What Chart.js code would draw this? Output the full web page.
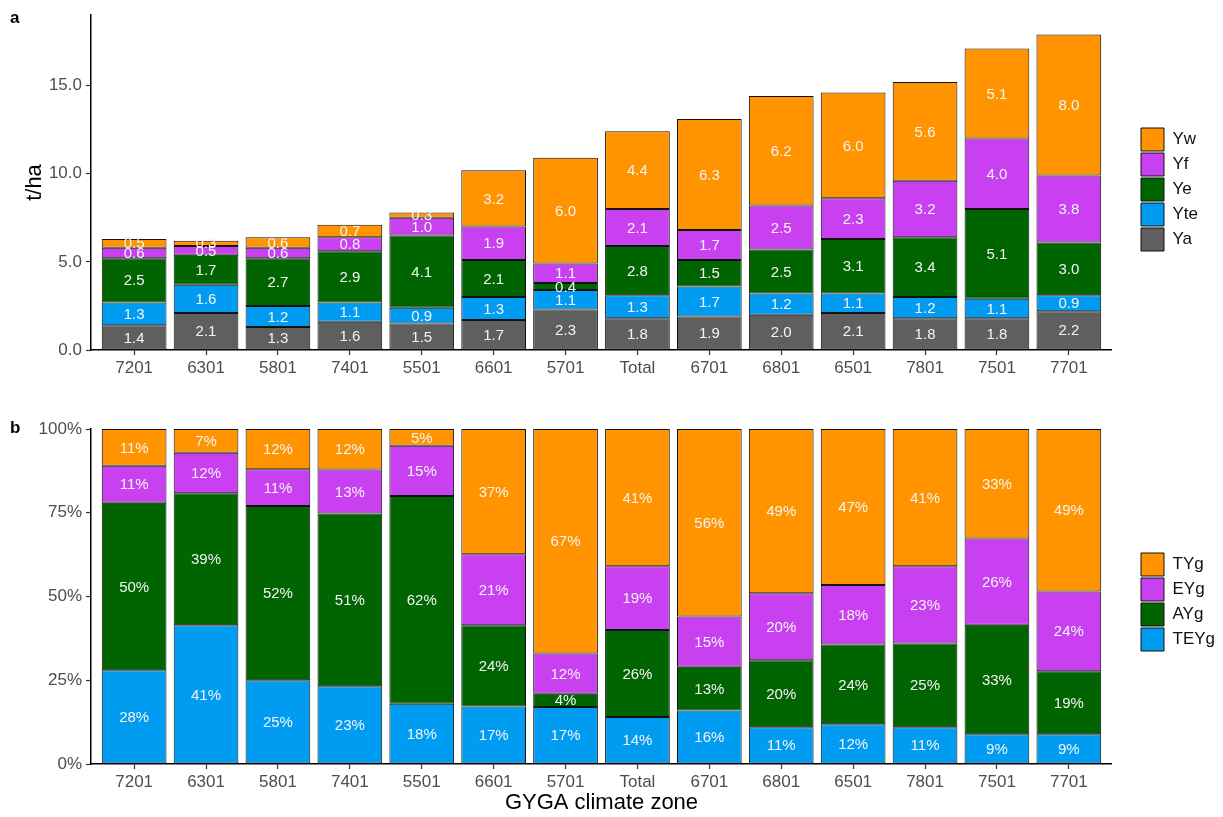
<!DOCTYPE html>
<html lang="en">
<head>
<meta charset="UTF-8">
<title>Yield gaps by GYGA climate zone</title>
<script src="https://cdn.jsdelivr.net/npm/chart.js"></script>
<style>
  body { margin: 0; background: #fff; }
  .panel { position: absolute; left: 0; width: 1223px; }
  #panelA { top: 0; height: 395px; }
  #panelB { top: 395px; height: 422px; }
</style>
</head>
<body>
<div class="panel" id="panelA"><canvas id="chartA" width="1223" height="395"></canvas></div>
<div class="panel" id="panelB"><canvas id="chartB" width="1223" height="422"></canvas></div>

<script>
// climate zones, same order in both panels
const zones = ['7201', '6301', '5801', '7401', '5501', '6601', '5701', 'Total', '6701', '6801', '6501', '7801', '7501', '7701'];

// panel a, t/ha (bottom to top)
const ya  = [1.4, 2.1, 1.3, 1.6, 1.5, 1.7, 2.3, 1.8, 1.9, 2.0, 2.1, 1.8, 1.8, 2.2];
const yte = [1.3, 1.6, 1.2, 1.1, 0.9, 1.3, 1.1, 1.3, 1.7, 1.2, 1.1, 1.2, 1.1, 0.9];
const ye  = [2.5, 1.7, 2.7, 2.9, 4.1, 2.1, 0.4, 2.8, 1.5, 2.5, 3.1, 3.4, 5.1, 3.0];
const yf  = [0.6, 0.5, 0.6, 0.8, 1.0, 1.9, 1.1, 2.1, 1.7, 2.5, 2.3, 3.2, 4.0, 3.8];
const yw  = [0.5, 0.3, 0.6, 0.7, 0.3, 3.2, 6.0, 4.4, 6.3, 6.2, 6.0, 5.6, 5.1, 8.0];

// panel b, % of the total gap (bottom to top)
const teyg = [28, 41, 25, 23, 18, 17, 17, 14, 16, 11, 12, 11, 9, 9];
const ayg  = [50, 39, 52, 51, 62, 24, 4, 26, 13, 20, 24, 25, 33, 19];
const eyg  = [11, 12, 11, 13, 15, 21, 12, 19, 15, 20, 18, 23, 26, 24];
const tyg  = [11, 7, 12, 12, 5, 37, 67, 41, 56, 49, 47, 41, 33, 49];

// tick values
const ticksA = [0, 5, 10, 15];
const ticksB = [0, 25, 50, 75, 100];

const colors = {
    orange: '#FF9400',
    purple: '#C940F0',
    green: '#006400',
    blue: '#009CF2',
    grey: '#5F5F5F'
};

Chart.defaults.font.family = "'Liberation Sans', Arial, sans-serif";
Chart.defaults.animation = false;

// white value labels in the middle of each segment
const segmentLabels = {
    id: 'segmentLabels',
    afterDatasetsDraw(chart) {
        const ctx = chart.ctx;
        ctx.save();
        ctx.font = "15px 'Liberation Sans', Arial, sans-serif";
        ctx.fillStyle = '#F4F4F4';
        ctx.textAlign = 'center';
        ctx.textBaseline = 'middle';
        chart.data.datasets.forEach((ds, d) => {
            chart.getDatasetMeta(d).data.forEach((bar, i) => {
                const p = bar.getProps(['x', 'y', 'base'], true);
                ctx.fillText(ds.tags[i], p.x, (p.y + p.base) / 2 + 1);
            });
        });
        ctx.restore();
    }
};

// the bold panel letter
const panelTag = {
    id: 'panelTag',
    afterDraw(chart, args, opts) {
        const ctx = chart.ctx;
        ctx.save();
        ctx.font = "bold 17px 'Liberation Sans', Arial, sans-serif";
        ctx.fillStyle = '#000';
        ctx.textBaseline = 'middle';
        ctx.fillText(opts.text, opts.x, opts.y);
        ctx.restore();
    }
};

// put the legend where ggplot had it
const legendPlace = {
    id: 'legendPlace',
    afterLayout(chart, args, opts) {
        const lg = chart.legend;
        const w = lg.width, h = lg.height;
        lg.left = opts.left;
        lg.right = opts.left + w;
        lg.top = opts.top;
        lg.bottom = opts.top + h;
    }
};

function series(label, values, color, tags) {
    return {
        label: label,
        data: values.map((v, i) => ({ x: i, y: v })),
        tags: tags,
        backgroundColor: color,
        borderColor: '#111',
        borderWidth: 1,
        borderSkipped: false,
        categoryPercentage: 0.9,
        barPercentage: 1
    };
}

function xAxis(withTitle) {
    return {
        type: 'linear',
        offset: false,
        min: -0.6,
        max: zones.length - 0.4,
        stacked: true,
        afterBuildTicks: s => { s.ticks = zones.map((z, i) => ({ value: i })); },
        afterFit: s => { s.height = withTitle ? 52 : 30; },
        ticks: {
            callback: v => zones[v],
            color: '#4D4D4D',
            font: { size: 17 },
            padding: 3,
            maxRotation: 0,
            autoSkip: false
        },
        grid: { offset: false, drawOnChartArea: false, tickLength: 5, color: '#333', tickWidth: 1.2 },
        border: { color: '#000', width: 1.5 },
        title: {
            display: withTitle,
            text: 'GYGA climate zone',
            color: '#000',
            font: { size: 22 },
            padding: { top: 0, bottom: 0 }
        }
    };
}

function legendOpts() {
    return {
        position: 'right',
        align: 'start',
        reverse: true,
        labels: {
            boxWidth: 23,
            boxHeight: 23,
            padding: 2,
            color: '#111',
            font: { size: 17 }
        }
    };
}

// panel a
const fmt1 = arr => arr.map(v => v.toFixed(1));
new Chart(document.getElementById('chartA'), {
    type: 'bar',
    data: {
        datasets: [
            series('Ya', ya, colors.grey, fmt1(ya)),
            series('Yte', yte, colors.blue, fmt1(yte)),
            series('Ye', ye, colors.green, fmt1(ye)),
            series('Yf', yf, colors.purple, fmt1(yf)),
            series('Yw', yw, colors.orange, fmt1(yw))
        ]
    },
    options: {
        responsive: false,
        layout: { padding: { top: 15, left: 0, right: 42, bottom: 15 } },
        scales: {
            x: xAxis(false),
            y: {
                stacked: true,
                min: 0,
                max: 19,
                afterBuildTicks: s => { s.ticks = ticksA.map(v => ({ value: v })); },
                afterFit: s => { s.width = 91; },
                ticks: { callback: v => v.toFixed(1), color: '#4D4D4D', font: { size: 17 }, padding: 4 },
                grid: { drawOnChartArea: false, tickLength: 5, color: '#333', tickWidth: 1.2 },
                border: { color: '#000', width: 1.5 },
                title: { display: true, text: 't/ha', color: '#000', font: { size: 22 }, padding: { top: 22, bottom: 0 } }
            }
        },
        plugins: {
            legend: legendOpts(),
            tooltip: { enabled: false },
            legendPlace: { left: 1139, top: 126 },
            panelTag: { text: 'a', x: 10, y: 18 }
        }
    },
    plugins: [segmentLabels, panelTag, legendPlace]
});

// panel b, drawn as shares of each column's sum so every bar reaches 100 %
const totals = zones.map((z, i) => teyg[i] + ayg[i] + eyg[i] + tyg[i]);
const share = arr => arr.map((v, i) => v / totals[i] * 100);
const pct = arr => arr.map(v => v + '%');

new Chart(document.getElementById('chartB'), {
    type: 'bar',
    data: {
        datasets: [
            series('TEYg', share(teyg), colors.blue, pct(teyg)),
            series('AYg', share(ayg), colors.green, pct(ayg)),
            series('EYg', share(eyg), colors.purple, pct(eyg)),
            series('TYg', share(tyg), colors.orange, pct(tyg))
        ]
    },
    options: {
        responsive: false,
        layout: { padding: { top: 34, left: 0, right: 25, bottom: 1 } },
        scales: {
            x: xAxis(true),
            y: {
                stacked: true,
                min: 0,
                max: 100,
                afterBuildTicks: s => { s.ticks = ticksB.map(v => ({ value: v })); },
                afterFit: s => { s.width = 91; },
                ticks: { callback: v => v + '%', color: '#4D4D4D', font: { size: 17 }, padding: 4 },
                grid: { drawOnChartArea: false, tickLength: 5, color: '#333', tickWidth: 1.2 },
                border: { color: '#000', width: 1.5 }
            }
        },
        plugins: {
            legend: legendOpts(),
            tooltip: { enabled: false },
            legendPlace: { left: 1139, top: 156 },
            panelTag: { text: 'b', x: 10, y: 33 }
        }
    },
    plugins: [segmentLabels, panelTag, legendPlace]
});
</script>
</body>
</html>
